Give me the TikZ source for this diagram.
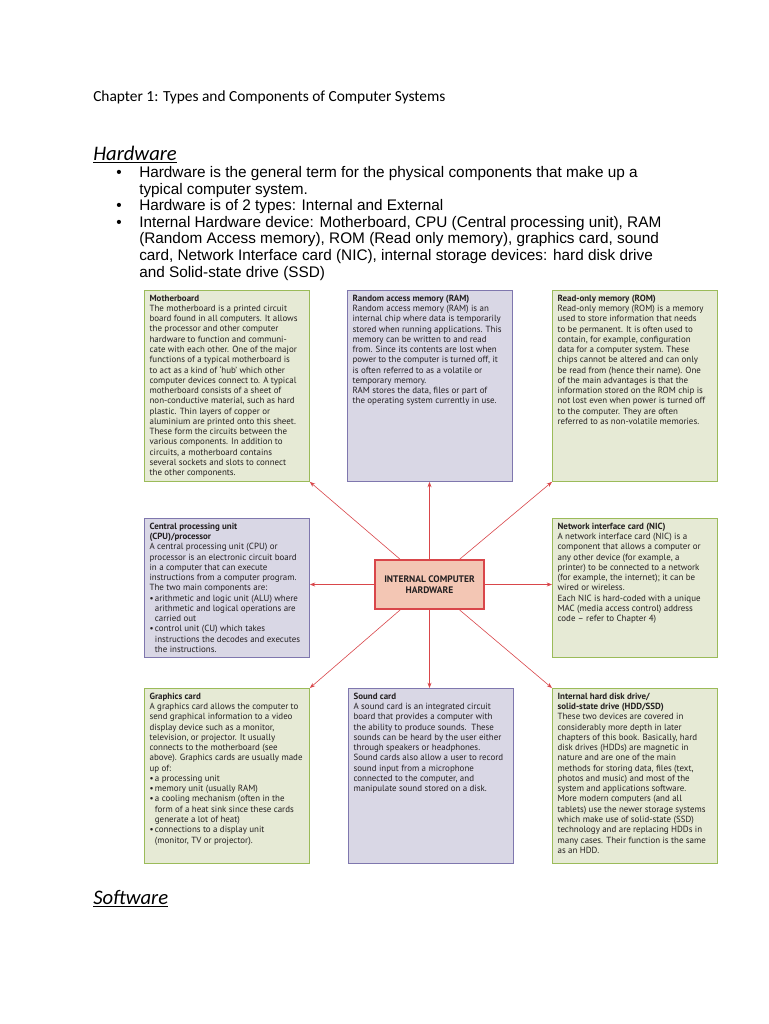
\documentclass[tikz,border=0pt]{standalone}
\usepackage{fontspec}
\usepackage{xcolor}
\usepackage{tikz}
\usetikzlibrary{arrows.meta,positioning}
\setmainfont{Liberation Sans}
\newfontfamily\cardfont{PT Sans}
\newfontfamily\calfont{Carlito}
\definecolor{grnfill}{HTML}{E6EAD5}
\definecolor{grnedge}{HTML}{9BBB59}
\definecolor{prpfill}{HTML}{D9D7E5}
\definecolor{prpedge}{HTML}{7F77AE}
\definecolor{hubfill}{HTML}{F3C6B4}
\definecolor{hubedge}{HTML}{D9464A}
\definecolor{txtgray}{HTML}{231F20}
\newcommand{\cardtext}[2]{\parbox[t][#1][t]{116pt}{\raggedright #2}}
\newcommand{\cbul}{\makebox[4pt][l]{•}}
\newcommand{\cind}{\hspace*{4pt}}

\begin{document}
\begin{tikzpicture}[
  x=0.75pt, y=-0.75pt,
  card/.style={draw, line width=0.8pt, anchor=north west,
               inner xsep=3.8pt, inner ysep=3.3pt, text=txtgray,
               font=\cardfont\fontsize{6.7}{7.7}\selectfont},
  grncard/.style={card, draw=grnedge, fill=grnfill},
  prpcard/.style={card, draw=prpedge, fill=prpfill},
  hub/.style={draw=hubedge, fill=hubfill, line width=0.8pt,
              minimum width=81.75pt, minimum height=36.75pt,
              align=center, text=txtgray,
              font=\cardfont\bfseries\fontsize{7.1}{8.6}\selectfont},
  arr/.style={-{Stealth[length=4pt, width=3pt]}, line width=0.45pt, hubedge},
  head/.style={anchor=base west, inner sep=0pt,
               font=\calfont\itshape\fontsize{15.5}{18}\selectfont},
  bultxt/.style={anchor=base west, inner sep=0pt, align=left,
                 font=\fontsize{11.5}{12.5}\selectfont},
  bulmark/.style={anchor=base west, inner sep=0pt,
                  font=\fontsize{11.5}{12.5}\selectfont},
]
  \fill[white] (0,0) rectangle (768,1024);
  \useasboundingbox (0,0) rectangle (768,1024);

  \node[anchor=base west, inner sep=0pt, font=\calfont\fontsize{11.55}{13}\selectfont] (chap) at (93,101)
    {Chapter 1: Types and Components of Computer Systems};
  \node[head] (hwhead) at (93,160.7) {\underline{Hardware}};
  \node[bulmark] (m1) at (116,177.3) {•};
  \node[bultxt] (b1) at (139,194)
    {Hardware is the general term for the physical components that make up a\\
     typical computer system.};
  \node[bulmark] (m2) at (116,210.6) {•};
  \node[bultxt] (b2) at (139,210.6) {Hardware is of 2 types: Internal and External};
  \node[bulmark] (m3) at (116,227.3) {•};
  \node[bultxt] (b3) at (139,277.3)
    {Internal Hardware device: Motherboard, CPU (Central processing unit), RAM\\
     (Random Access memory), ROM (Read only memory), graphics card, sound\\
     card, Network Interface card (NIC), internal storage devices: hard disk drive\\
     and Solid-state drive (SSD)};

  \node[grncard] (mobo) at (144,290) {\cardtext{136.5pt}{%
    \textbf{Motherboard}\\
    The motherboard is a printed circuit\\
    board found in all computers. It allows\\
    the processor and other computer\\
    hardware to function and communi-\\
    cate with each other. One of the major\\
    functions of a typical motherboard is\\
    to act as a kind of ‘hub’ which other\\
    computer devices connect to. A typical\\
    motherboard consists of a sheet of\\
    non-conductive material, such as hard\\
    plastic. Thin layers of copper or\\
    aluminium are printed onto this sheet.\\
    These form the circuits between the\\
    various components. In addition to\\
    circuits, a motherboard contains\\
    several sockets and slots to connect\\
    the other components.}};
  \node[prpcard] (ram) at (347,290) {\cardtext{136.5pt}{%
    \textbf{Random access memory (RAM)}\\
    Random access memory (RAM) is an\\
    internal chip where data is temporarily\\
    stored when running applications. This\\
    memory can be written to and read\\
    from. Since its contents are lost when\\
    power to the computer is turned off, it\\
    is often referred to as a volatile or\\
    temporary memory.\\
    RAM stores the data, files or part of\\
    the operating system currently in use.}};
  \node[grncard] (rom) at (552,290) {\cardtext{136.5pt}{%
    \textbf{Read-only memory (ROM)}\\
    Read-only memory (ROM) is a memory\\
    used to store information that needs\\
    to be permanent. It is often used to\\
    contain, for example, configuration\\
    data for a computer system. These\\
    chips cannot be altered and can only\\
    be read from (hence their name). One\\
    of the main advantages is that the\\
    information stored on the ROM chip is\\
    not lost even when power is turned off\\
    to the computer. They are often\\
    referred to as non-volatile memories.}};
  \node[prpcard] (cpu) at (144,518) {\cardtext{97.5pt}{%
    \textbf{Central processing unit}\\
    \textbf{(CPU)/processor}\\
    A central processing unit (CPU) or\\
    processor is an electronic circuit board\\
    in a computer that can execute\\
    instructions from a computer program.\\
    The two main components are:\\
    \cbul arithmetic and logic unit (ALU) where\\
    \cind arithmetic and logical operations are\\
    \cind carried out\\
    \cbul control unit (CU) which takes\\
    \cind instructions the decodes and executes\\
    \cind the instructions.}};
  \node[grncard] (nic) at (552,518) {\cardtext{97.5pt}{%
    \textbf{Network interface card (NIC)}\\
    A network interface card (NIC) is a\\
    component that allows a computer or\\
    any other device (for example, a\\
    printer) to be connected to a network\\
    (for example, the internet); it can be\\
    wired or wireless.\\
    Each NIC is hard-coded with a unique\\
    MAC (media access control) address\\
    code – refer to Chapter 4)}};
  \node[grncard] (gpu) at (144,688) {\cardtext{124.5pt}{%
    \textbf{Graphics card}\\
    A graphics card allows the computer to\\
    send graphical information to a video\\
    display device such as a monitor,\\
    television, or projector. It usually\\
    connects to the motherboard (see\\
    above). Graphics cards are usually made\\
    up of:\\
    \cbul a processing unit\\
    \cbul memory unit (usually RAM)\\
    \cbul a cooling mechanism (often in the\\
    \cind form of a heat sink since these cards\\
    \cind generate a lot of heat)\\
    \cbul connections to a display unit\\
    \cind (monitor, TV or projector).}};
  \node[prpcard] (snd) at (348,688) {\cardtext{124.5pt}{%
    \textbf{Sound card}\\
    A sound card is an integrated circuit\\
    board that provides a computer with\\
    the ability to produce sounds.\ \ These\\
    sounds can be heard by the user either\\
    through speakers or headphones.\\
    Sound cards also allow a user to record\\
    sound input from a microphone\\
    connected to the computer, and\\
    manipulate sound stored on a disk.}};
  \node[grncard] (hdd) at (552,688) {\cardtext{124.5pt}{%
    \textbf{Internal hard disk drive/}\\
    \textbf{solid-state drive (HDD/SSD)}\\
    These two devices are covered in\\
    considerably more depth in later\\
    chapters of this book. Basically, hard\\
    disk drives (HDDs) are magnetic in\\
    nature and are one of the main\\
    methods for storing data, files (text,\\
    photos and music) and most of the\\
    system and applications software.\\
    More modern computers (and all\\
    tablets) use the newer storage systems\\
    which make use of solid-state (SSD)\\
    technology and are replacing HDDs in\\
    many cases. Their function is the same\\
    as an HDD.}};

  \node[hub] (hw) at (429.5,584.5) {INTERNAL COMPUTER\\HARDWARE};

  \draw[arr] (hw) -- (mobo.south east);
  \draw[arr] (hw) -- (hw |- ram.south);
  \draw[arr] (hw) -- (rom.south west);
  \draw[arr] (hw) -- (hw -| cpu.east);
  \draw[arr] (hw) -- (hw -| nic.west);
  \draw[arr] (hw) -- (gpu.north east);
  \draw[arr] (hw) -- (hw |- snd.north);
  \draw[arr] (hw) -- (hdd.north west);

  \node[head] (swhead) at (93,904) {\underline{Software}};
\end{tikzpicture}
\end{document}
